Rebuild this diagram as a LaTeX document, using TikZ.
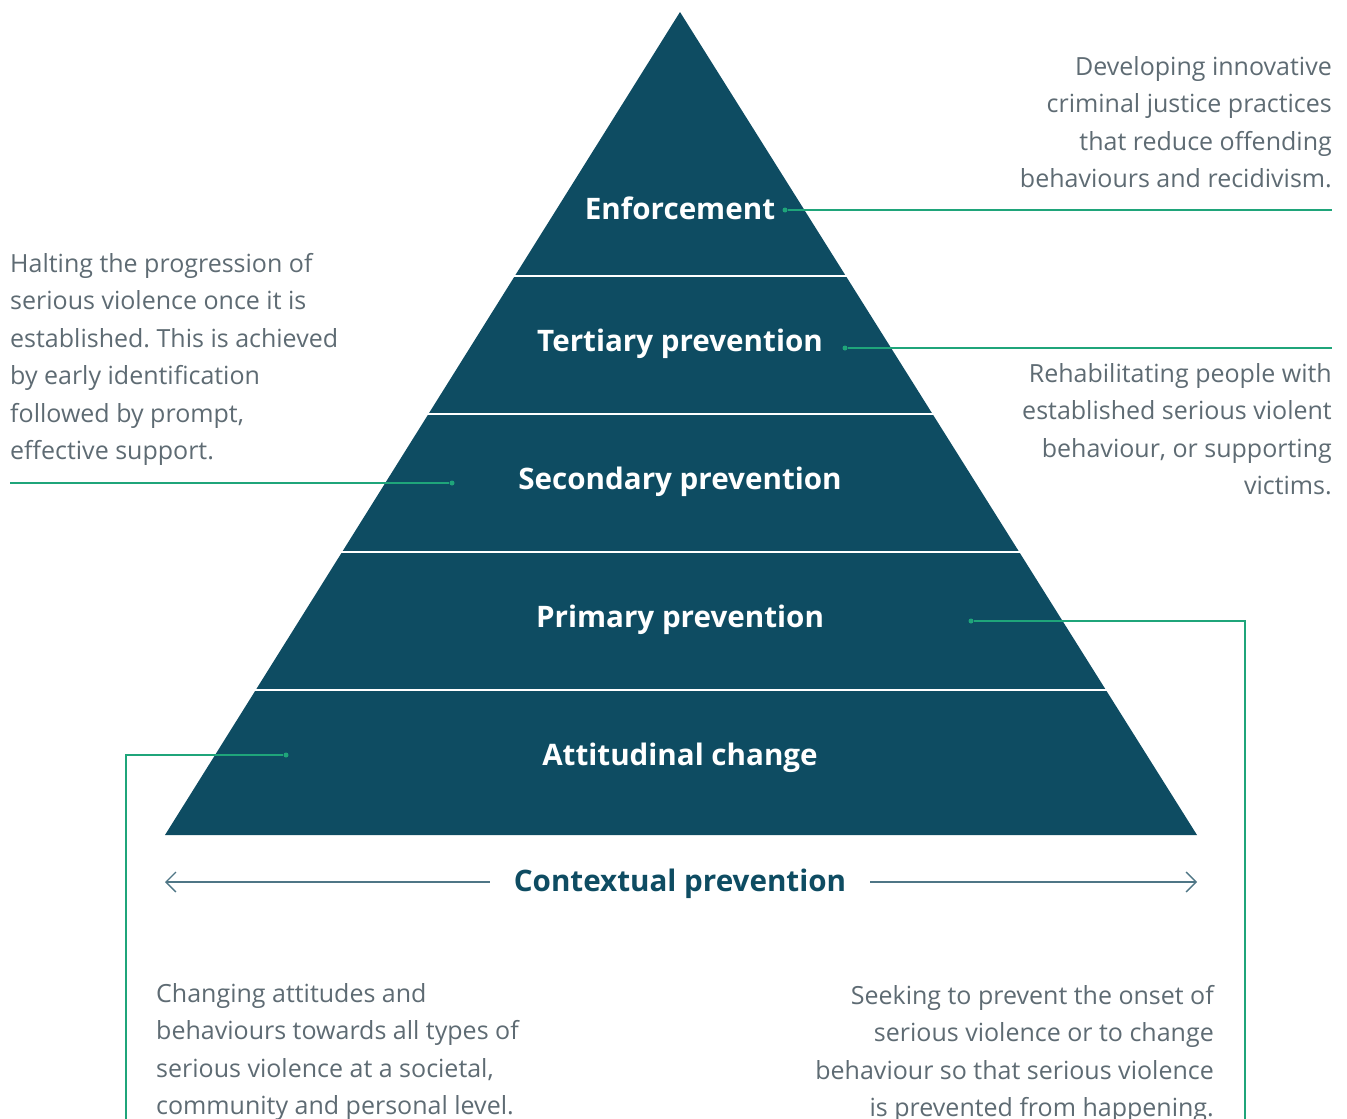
\documentclass[tikz,border=0pt]{standalone}
\usepackage{fontspec}
\setmainfont{Open Sans}
\usetikzlibrary{calc,arrows.meta}
\definecolor{pyramid}{HTML}{0E4C62}
\definecolor{linkgreen}{HTML}{1FA57A}
\definecolor{bodygray}{HTML}{5E6B73}
\definecolor{ctxline}{HTML}{4F7686}
\frenchspacing
\begin{document}
\begin{tikzpicture}[x = 1pt, y = -1pt,
        every node/.style={inner sep=0pt},
        layer/.style={font=\fontsize{29.6}{32}\selectfont\bfseries, text=white},
        blurb/.style={font=\fontsize{25}{37.5}\selectfont, text=bodygray},
        link/.style={draw=linkgreen, line width=1.3pt},
        linkdot/.style={circle, fill=linkgreen, minimum size=5pt},
        ctxarrow/.style={draw=ctxline, line width=1.3pt, -{Straight Barb[length=10pt, width=20pt]}}
]
    \useasboundingbox (0,0) rectangle (1347,1119);
    % pyramid
    \coordinate (apex) at (680,12);
    \coordinate (baseL) at (165,835);
    \coordinate (baseR) at (1197,835);
    \fill[pyramid] (apex) -- (baseL) -- (baseR) -- cycle;
    \foreach \t in {0.3208,0.4885,0.6561,0.8238}
        \draw[white, line width=2.5pt] ($(apex)!\t!(baseL)+(-3,0)$) -- ($(apex)!\t!(baseR)+(3,0)$);

    \node[layer] (enf) at (680,208) {Enforcement};
    \node[layer] (tert) at (680,344) {Tertiary prevention};
    \node[layer] (sec) at (680,482) {Secondary prevention};
    \node[layer] (prim) at (680,620) {Primary prevention};
    \node[layer] (att) at (680,758) {Attitudinal change};

    % connectors
    \node[linkdot] (enfdot) at (785,210) {};
    \node[linkdot] (tertdot) at (845,348) {};
    \node[linkdot] (secdot) at (452,483) {};
    \node[linkdot] (primdot) at (971,621) {};
    \node[linkdot] (attdot) at (286,755) {};
    \coordinate (enfend) at (1332,210);
    \coordinate (tertend) at (1332,348);
    \coordinate (secend) at (10,483);
    \coordinate (primend) at (1245,1119);
    \coordinate (attend) at (126,1119);
    \draw[link] (enfdot) -- (enfend);
    \draw[link] (tertdot) -- (tertend);
    \draw[link] (secdot) -- (secend);
    \draw[link] (primdot) -| (primend);
    \draw[link] (attdot) -| (attend);

    % contextual prevention
    \node[font=\fontsize{29.6}{32}\selectfont\bfseries, text=pyramid, inner xsep=24pt] (ctx) at (680,884) {Contextual prevention};
    \coordinate (ctxL) at (165,882);
    \coordinate (ctxR) at (1197,882);
    \draw[ctxarrow] (ctx.west |- ctxL) -- (ctxL);
    \draw[ctxarrow] (ctx.east |- ctxR) -- (ctxR);

    % descriptions
    \node[blurb, align=right, anchor=north east] (enftext) at (1332,56) {Developing innovative\\criminal justice practices\\that reduce offending\\behaviours and recidivism.};
    \node[blurb, align=left, anchor=north west] (sectext) at (10,253) {Halting the progression of\\serious violence once it is\\established. This is achieved\\by early identification\\followed by prompt,\\effective support.};
    \node[blurb, align=right, anchor=north east] (terttext) at (1332,363) {Rehabilitating people with\\established serious violent\\behaviour, or supporting\\victims.};
    \node[blurb, align=left, anchor=north west] (atttext) at (156,983) {Changing attitudes and\\behaviours towards all types of\\serious violence at a societal,\\community and personal level.};
    \node[blurb, align=right, anchor=north east] (primtext) at (1214,985) {Seeking to prevent the onset of\\serious violence or to change\\behaviour so that serious violence\\is prevented from happening.};
\end{tikzpicture}
\end{document}
